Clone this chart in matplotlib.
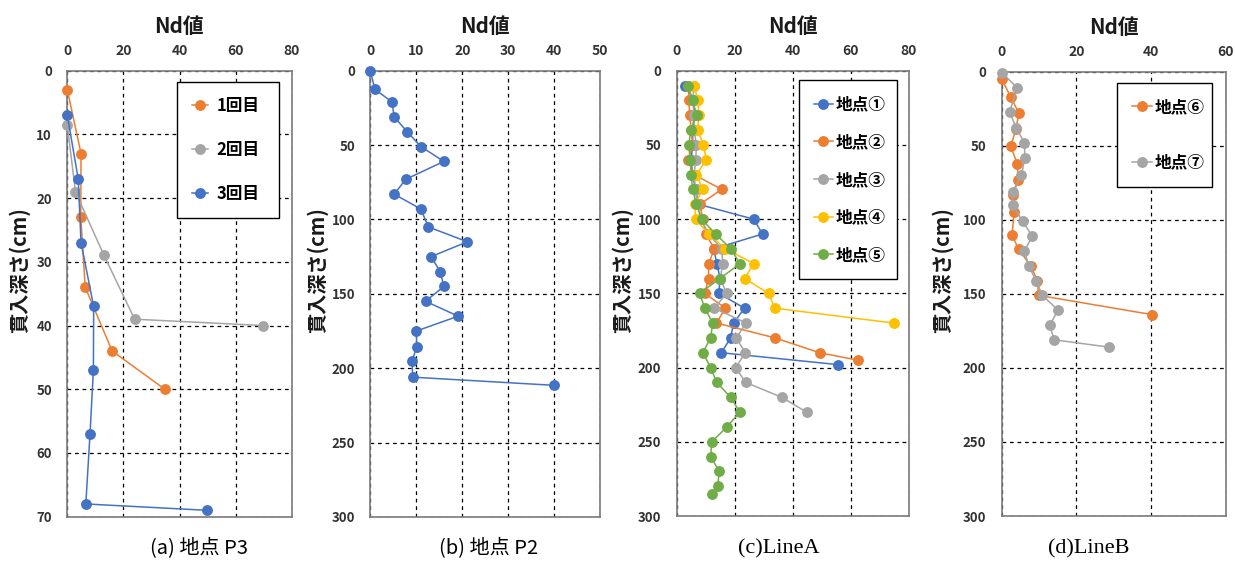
import matplotlib
matplotlib.use("Agg")
import matplotlib.pyplot as plt

plt.rcParams["font.family"] = ["Noto Sans CJK JP", "DejaVu Sans"]

BLUE = "#4472C4"
ORANGE = "#ED7D31"
GRAY = "#A5A5A5"
YELLOW = "#FFC000"
GREEN = "#70AD47"

# (a) 地点 P3
p3_1_nd = [0, 4.9, 4.8, 6.4, 16.0, 34.8]
p3_1_d = [3, 13, 23, 34, 44, 50]
p3_2_nd = [0, 2.9, 13.1, 24.0, 69.9]
p3_2_d = [8.5, 19, 29, 39, 40]
p3_3_nd = [0, 3.9, 4.9, 9.4, 9.3, 8.1, 6.6, 49.9]
p3_3_d = [7, 17, 27, 37, 47, 57, 68, 69]

# (b) 地点 P2
p2_nd = [0, 1.0, 4.7, 5.2, 8.0, 11.0, 16.0, 7.7, 5.2, 11.0, 12.6, 21.1,
         13.2, 15.2, 16.0, 12.0, 19.1, 10.0, 10.1, 9.1, 9.2, 40.0]
p2_d = [0, 12.5, 21, 31, 41, 51, 61, 73, 83, 93, 105, 115,
        125, 135, 145, 155, 165, 175, 185.5, 195, 206, 211.5]

# (c) LineA
la1_d = [10, 20, 30, 40, 50, 60, 70, 80, 90, 100, 110, 120, 130, 140, 150,
         160, 170, 180, 190, 198]
la1_nd = [3, 6, 6, 5.5, 5.5, 5, 5.5, 6.5, 7.5, 26.5, 29.6, 12.8, 13.8, 15,
          14.5, 23.4, 19.6, 18.6, 15.4, 55.5]
la2_d = [10, 20, 30, 40, 50, 60, 70, 80, 90, 100, 110, 120, 130, 140, 150,
         160, 170, 180, 190, 195]
la2_nd = [4, 4.2, 4.5, 5, 5.5, 4, 6, 15.5, 8, 9, 10, 13, 11, 11, 9.7,
          16.8, 13.7, 33.9, 49.3, 62.4]
la3_d = [10, 20, 30, 40, 50, 60, 70, 80, 90, 100, 110, 120, 130, 140, 150,
         160, 170, 180, 190, 200, 210, 220, 230]
la3_nd = [6, 5.5, 6, 6, 6.8, 6.6, 6, 6.5, 7, 8.5, 11, 15.5, 15.9, 15, 17.2,
          13, 24, 20.5, 23.7, 20.3, 23.8, 36.2, 44.8]
la4_d = [10, 20, 30, 40, 50, 60, 70, 80, 90, 100, 110, 120, 130, 140, 150,
         160, 170]
la4_nd = [6, 7.3, 7.6, 7.2, 9.2, 10.2, 6.8, 9, 6.2, 6.5, 11, 16.8, 26.6,
          23.4, 31.7, 33.8, 74.8]
la5_d = [10, 20, 30, 40, 50, 60, 70, 80, 90, 100, 110, 120, 130, 140, 150,
         160, 170, 180, 190, 200, 210, 220, 230, 240, 250, 260, 270, 280, 285]
la5_nd = [3.8, 5.5, 6.9, 4.8, 4.2, 4.6, 5, 5.5, 6.8, 8.6, 13.4, 18.7, 21.8,
          14.9, 7.9, 9.7, 12.4, 11.7, 9, 11.7, 13.8, 18.6, 21.8, 17.3, 12.1,
          11.7, 14.7, 14.1, 12.1]

# (d) LineB
lb6_d = [5, 17, 28, 39, 50.5, 62, 73, 83, 95, 110, 120, 131, 141, 151, 164]
lb6_nd = [0, 2.4, 4.6, 3.8, 2.4, 4.2, 4.4, 3.1, 3.3, 2.8, 4.5, 7.8, 9.5,
          9.9, 40.2]
lb7_d = [1, 11, 27, 38, 48, 58, 70, 81, 90, 101, 111, 121, 131, 141, 151,
         161, 171, 181, 186]
lb7_nd = [0.2, 4.2, 2.1, 3.9, 6.1, 6.2, 5.3, 2.9, 2.9, 5.6, 8.2, 6.1, 7.2,
          9.2, 10.9, 15.1, 12.9, 14.0, 28.8]

fig = plt.figure(figsize=(12.35, 5.66), dpi=100)

W, H = 1235, 566


def make_ax(l, r, t, b):
    return fig.add_axes([l / W, 1 - b / H, (r - l) / W, (b - t) / H])


def style(ax, xmax, xstep, ymax, ystep, ylab_x):
    ax.set_xlim(0, xmax)
    ax.set_ylim(ymax, 0)
    ax.set_xticks(range(0, xmax + 1, xstep))
    ax.set_yticks(range(0, ymax + 1, ystep))
    ax.xaxis.tick_top()
    ax.xaxis.set_label_position("top")
    ax.tick_params(axis="both", length=0)
    ax.tick_params(axis="x", pad=9, labelsize=10)
    ax.tick_params(axis="y", pad=11, labelsize=9.5)
    for lab in ax.get_xticklabels() + ax.get_yticklabels():
        lab.set_fontweight("bold")
        lab.set_color("#333333")
    ax.grid(True, color="black", linestyle=(0, (3, 3)), linewidth=0.9)
    for sp in ax.spines.values():
        sp.set_color("#7a7a7a")
        sp.set_linewidth(1.2)
        sp.set_zorder(3)
    ax.set_xlabel("Nd値", fontsize=15, fontweight="bold", color="#1a1a1a")
    ax.xaxis.set_label_coords(0.5, 1.085)
    ax.set_ylabel("貫入深さ(cm)", fontsize=14.5, fontweight="bold",
                  color="#1a1a1a")
    ax.yaxis.set_label_coords(ylab_x, 0.553)


def series(ax, x, y, color, label):
    ax.plot(x, y, color=color, linewidth=1.1, marker="o", markersize=6.8,
            label=label, clip_on=False, zorder=4)


def legend(ax, x0, y0, w, h, spacing, hlen, tpad):
    leg = ax.legend(loc="upper left", bbox_to_anchor=(x0, y0, w, h),
                    mode="expand", frameon=True, fancybox=False,
                    framealpha=1, edgecolor="black", labelspacing=spacing,
                    handlelength=hlen, handletextpad=tpad, borderpad=0.9,
                    borderaxespad=0, prop={"size": 12, "weight": "bold"})
    leg.get_frame().set_linewidth(1.0)
    leg.set_zorder(6)


# (a)
ax1 = make_ax(67.3, 291.7, 70.7, 516.7)
series(ax1, p3_1_nd, p3_1_d, ORANGE, "1回目")
series(ax1, p3_2_nd, p3_2_d, GRAY, "2回目")
series(ax1, p3_3_nd, p3_3_d, BLUE, "3回目")
style(ax1, 80, 20, 70, 10, -0.166)
legend(ax1, 0.489, 0.674, 0.454, 0.301, 1.55, 0.95, 0.5)

# (b)
ax2 = make_ax(370.3, 600.3, 70.7, 517)
series(ax2, p2_nd, p2_d, BLUE, None)
style(ax2, 50, 10, 300, 50, -0.183)

# (c)
ax3 = make_ax(676.7, 908.7, 70.7, 516)
series(ax3, la1_nd, la1_d, BLUE, "地点①")
series(ax3, la2_nd, la2_d, ORANGE, "地点②")
series(ax3, la3_nd, la3_d, GRAY, "地点③")
series(ax3, la4_nd, la4_d, YELLOW, "地点④")
series(ax3, la5_nd, la5_d, GREEN, "地点⑤")
style(ax3, 80, 20, 300, 50, -0.188)
legend(ax3, 0.528, 0.564, 0.423, 0.414, 1.18, 1.1, 0.2)

# (d)
ax4 = make_ax(1001.7, 1225.7, 71.7, 516)
series(ax4, lb6_nd, lb6_d, ORANGE, "地点⑥")
series(ax4, lb7_nd, lb7_d, GRAY, "地点⑦")
style(ax4, 60, 20, 300, 50, -0.217)
legend(ax4, 0.516, 0.7225, 0.422, 0.252, 2.25, 1.2, 0.15)

# captions
cap_y = 1 - 549 / H
fig.text(199 / W, cap_y, "(a) 地点 P3", ha="center", va="center",
         fontsize=14.5)
fig.text(489 / W, cap_y, "(b) 地点 P2", ha="center", va="center",
         fontsize=14.5)
fig.text(779 / W, cap_y, "(c)LineA", ha="center", va="center",
         fontsize=16, family=["Liberation Serif", "DejaVu Serif"])
fig.text(1089 / W, cap_y, "(d)LineB", ha="center", va="center",
         fontsize=16, family=["Liberation Serif", "DejaVu Serif"])

fig.savefig("out.png", dpi=100)
